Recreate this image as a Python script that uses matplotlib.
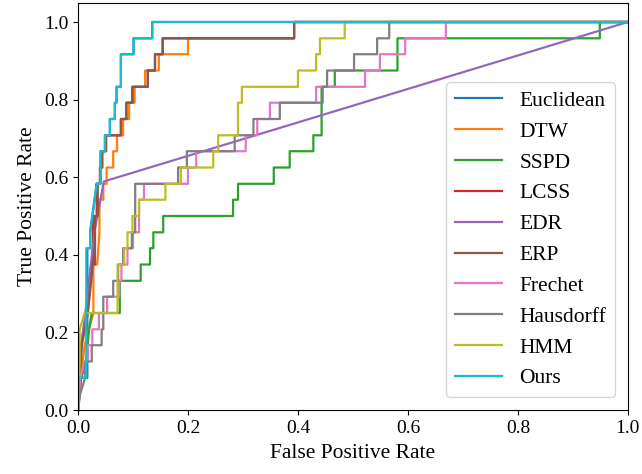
import matplotlib
matplotlib.use("Agg")
import matplotlib.pyplot as plt

plt.rcParams['font.family'] = ['Liberation Serif', 'DejaVu Serif']

labels = ["Euclidean", "DTW", "SSPD", "LCSS", "EDR", "ERP", "Frechet", "Hausdorff", "HMM", "Ours"]

# ROC corner points (FPR, TPR)
euclidean_fpr = [0, 0.002, 0.017, 0.017, 0.022, 0.022, 0.034, 0.041, 0.041, 0.049, 0.049, 0.058, 0.058, 0.067, 0.067, 0.070, 0.070, 0.078, 0.078, 0.101, 0.101, 0.135, 0.135, 1.0]
euclidean_tpr = [0, 0.083, 0.083, 0.417, 0.417, 0.458, 0.583, 0.583, 0.667, 0.667, 0.708, 0.708, 0.750, 0.750, 0.792, 0.792, 0.833, 0.833, 0.917, 0.917, 0.958, 0.958, 1.0, 1.0]

dtw_fpr = [0, 0.005, 0.012, 0.020, 0.028, 0.028, 0.035, 0.039, 0.039, 0.046, 0.046, 0.052, 0.052, 0.064, 0.064, 0.071, 0.071, 0.082, 0.082, 0.093, 0.093, 0.103, 0.103, 0.122, 0.122, 0.147, 0.147, 0.200, 0.200, 0.393, 0.393, 1.0]
dtw_tpr = [0, 0.083, 0.167, 0.208, 0.250, 0.375, 0.375, 0.458, 0.542, 0.542, 0.583, 0.583, 0.625, 0.625, 0.667, 0.667, 0.708, 0.708, 0.750, 0.750, 0.792, 0.792, 0.833, 0.833, 0.875, 0.875, 0.917, 0.917, 0.958, 0.958, 1.0, 1.0]

sspd_fpr = [0, 0.006, 0.015, 0.020, 0.025, 0.076, 0.076, 0.114, 0.114, 0.131, 0.131, 0.137, 0.137, 0.155, 0.155, 0.282, 0.282, 0.291, 0.291, 0.356, 0.356, 0.385, 0.385, 0.428, 0.428, 0.443, 0.443, 0.467, 0.467, 0.581, 0.581, 0.949, 0.949, 1.0]
sspd_tpr = [0, 0.083, 0.125, 0.208, 0.250, 0.250, 0.333, 0.333, 0.375, 0.375, 0.417, 0.417, 0.458, 0.458, 0.500, 0.500, 0.542, 0.542, 0.583, 0.583, 0.625, 0.625, 0.667, 0.667, 0.708, 0.708, 0.833, 0.833, 0.875, 0.875, 0.958, 0.958, 1.0, 1.0]

lcss_fpr = [0, 0.006, 0.015, 0.024, 0.027, 0.027, 0.034, 0.034, 0.040, 0.040, 0.044, 0.044, 0.051, 0.051, 0.078, 0.078, 0.088, 0.088, 0.099, 0.099, 0.127, 0.127, 0.140, 0.140, 0.154, 0.154, 0.393, 0.393, 1.0]
lcss_tpr = [0, 0.167, 0.250, 0.375, 0.375, 0.500, 0.500, 0.583, 0.583, 0.625, 0.625, 0.667, 0.667, 0.708, 0.708, 0.750, 0.750, 0.792, 0.792, 0.833, 0.833, 0.875, 0.875, 0.917, 0.917, 0.958, 0.958, 1.0, 1.0]

edr_fpr = [0, 0.002, 0.015, 0.030, 0.047, 1.0]
edr_tpr = [0, 0.125, 0.270, 0.460, 0.589, 1.0]

erp_fpr = [0, 0.007, 0.018, 0.027, 0.031, 0.031, 0.036, 0.036, 0.040, 0.040, 0.044, 0.044, 0.051, 0.051, 0.078, 0.078, 0.088, 0.088, 0.099, 0.099, 0.127, 0.127, 0.140, 0.140, 0.154, 0.154, 0.393, 0.393, 1.0]
erp_tpr = [0, 0.167, 0.250, 0.375, 0.375, 0.500, 0.500, 0.583, 0.583, 0.625, 0.625, 0.667, 0.667, 0.708, 0.708, 0.750, 0.750, 0.792, 0.792, 0.833, 0.833, 0.875, 0.875, 0.917, 0.917, 0.958, 0.958, 1.0, 1.0]

frechet_fpr = [0, 0.004, 0.012, 0.018, 0.018, 0.026, 0.026, 0.038, 0.038, 0.053, 0.053, 0.075, 0.075, 0.079, 0.079, 0.090, 0.090, 0.100, 0.100, 0.111, 0.111, 0.120, 0.120, 0.200, 0.200, 0.215, 0.215, 0.305, 0.305, 0.326, 0.326, 0.349, 0.349, 0.433, 0.433, 0.522, 0.522, 0.549, 0.549, 0.595, 0.595, 0.669, 0.669, 1.0]
frechet_tpr = [0, 0.083, 0.125, 0.125, 0.167, 0.167, 0.208, 0.208, 0.250, 0.250, 0.292, 0.292, 0.333, 0.333, 0.375, 0.375, 0.417, 0.417, 0.458, 0.458, 0.542, 0.542, 0.583, 0.583, 0.625, 0.625, 0.667, 0.667, 0.708, 0.708, 0.750, 0.750, 0.792, 0.792, 0.833, 0.833, 0.875, 0.875, 0.917, 0.917, 0.958, 0.958, 1.0, 1.0]

hausdorff_fpr = [0, 0.004, 0.013, 0.013, 0.025, 0.025, 0.043, 0.043, 0.046, 0.046, 0.064, 0.064, 0.073, 0.073, 0.082, 0.082, 0.098, 0.098, 0.104, 0.104, 0.182, 0.182, 0.198, 0.198, 0.285, 0.285, 0.319, 0.319, 0.367, 0.367, 0.445, 0.445, 0.453, 0.453, 0.502, 0.502, 0.544, 0.544, 0.566, 0.566, 1.0]
hausdorff_tpr = [0, 0.042, 0.083, 0.125, 0.125, 0.167, 0.167, 0.208, 0.208, 0.292, 0.292, 0.333, 0.333, 0.375, 0.375, 0.417, 0.417, 0.458, 0.458, 0.583, 0.583, 0.625, 0.625, 0.667, 0.667, 0.708, 0.708, 0.750, 0.750, 0.792, 0.792, 0.833, 0.833, 0.875, 0.875, 0.917, 0.917, 0.958, 0.958, 1.0, 1.0]

hmm_fpr = [0, 0.003, 0.003, 0.012, 0.072, 0.072, 0.084, 0.084, 0.090, 0.090, 0.099, 0.099, 0.111, 0.111, 0.159, 0.159, 0.187, 0.187, 0.246, 0.246, 0.255, 0.255, 0.291, 0.291, 0.298, 0.298, 0.400, 0.400, 0.433, 0.433, 0.440, 0.440, 0.485, 0.485, 1.0]
hmm_tpr = [0, 0.125, 0.208, 0.250, 0.250, 0.375, 0.375, 0.417, 0.417, 0.458, 0.458, 0.500, 0.500, 0.542, 0.542, 0.583, 0.583, 0.625, 0.625, 0.667, 0.667, 0.708, 0.708, 0.792, 0.792, 0.833, 0.833, 0.875, 0.875, 0.917, 0.917, 0.958, 0.958, 1.0, 1.0]

ours_fpr = [0, 0.002, 0.015, 0.015, 0.022, 0.022, 0.034, 0.041, 0.041, 0.049, 0.049, 0.058, 0.058, 0.067, 0.067, 0.070, 0.070, 0.078, 0.078, 0.101, 0.101, 0.135, 0.135, 1.0]
ours_tpr = [0, 0.083, 0.083, 0.417, 0.417, 0.458, 0.583, 0.583, 0.667, 0.667, 0.708, 0.708, 0.750, 0.750, 0.792, 0.792, 0.833, 0.833, 0.917, 0.917, 0.958, 0.958, 1.0, 1.0]

series = [
    (euclidean_fpr, euclidean_tpr),
    (dtw_fpr, dtw_tpr),
    (sspd_fpr, sspd_tpr),
    (lcss_fpr, lcss_tpr),
    (edr_fpr, edr_tpr),
    (erp_fpr, erp_tpr),
    (frechet_fpr, frechet_tpr),
    (hausdorff_fpr, hausdorff_tpr),
    (hmm_fpr, hmm_tpr),
    (ours_fpr, ours_tpr),
]

fig = plt.figure(figsize=(6.42, 4.74), dpi=100)
ax = fig.add_axes([0.1215, 0.135, 0.8565, 0.8595])

for (fx, ty), lab in zip(series, labels):
    ax.plot(fx, ty, lw=1.6, label=lab)

ax.set_xlim(0, 1.0)
ax.set_ylim(0, 1.05)
ax.set_xticks([0, 0.2, 0.4, 0.6, 0.8, 1.0])
ax.set_yticks([0, 0.2, 0.4, 0.6, 0.8, 1.0])
ax.tick_params(labelsize=14)
ax.set_xlabel("False Positive Rate", fontsize=15.5, labelpad=5)
ax.set_ylabel("True Positive Rate", fontsize=15.5, labelpad=5)
ax.legend(loc="lower right", fontsize=15.5, labelspacing=0.5,
          borderaxespad=0.6, handlelength=2.2)

fig.savefig("out.png", dpi=100)
